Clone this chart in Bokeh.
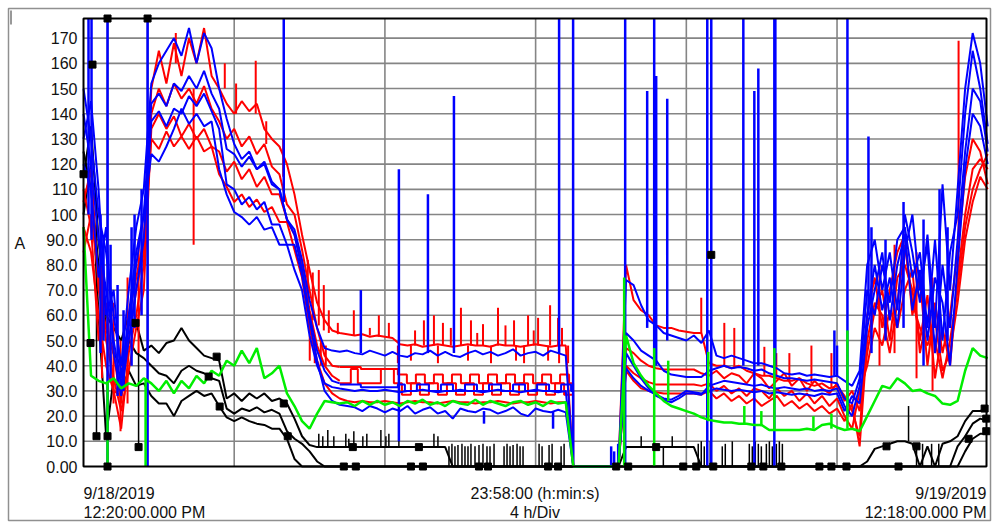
from bokeh.plotting import figure
from bokeh.models import Range1d
from bokeh.core.properties import value
from bokeh.embed import file_html
from bokeh.resources import INLINE

NAN = float("nan")

# ---------------- data ----------------
# logger record interval (hours) and number of records, time = hours since 9/18/2019 12:20 PM
SAMPLE_HOURS = 0.2
N_SAMPLES = 121
SPAN_HOURS = 23.967  # 23:58:00
GRID_HOURS = [4, 8, 12, 16, 20]

Y_TICKS = [0, 10, 20, 30, 40, 50, 60, 70, 80, 90, 100, 110, 120, 130, 140, 150, 160, 170]
Y_TICK_LABELS = ["0.00", "10.0", "20.0", "30.0", "40.0", "50.0", "60.0", "70.0", "80.0", "90.0",
                 "100", "110", "120", "130", "140", "150", "160", "170"]
Y_MAX = 177.8
Y_UNIT = "A"
X_LABELS_LEFT = ["9/18/2019", "12:20:00.000 PM"]
X_LABELS_MID = ["23:58:00 (h:min:s)", "4 h/Div"]
X_LABELS_RIGHT = ["9/19/2019", "12:18:00.000 PM"]

# red traces
R1 = ([105, 118, 70, 55, 45, 25, 60, 75, 90]
      + [150, 165, 152, 168, 155, 170, 160, 174, 155, 150, 144, 140, 145, 141, 144, 134, 130, 127, 120, 108, 92]
      + [78, 65, 58, 54, 53]
      + [52.5, 52, 52.5, 51.5, 52, 51.5, 51, 48.5, 48, 48.5, 47.5, 48, 48.5, 48, 47.5, 48, 48.5, 48, 48, 47.5,
         48.5, 48, 48, 47.5, 48, 48.5, 48, 47.5, 48, 48]
      + [0, 0, 0, 0, 0, 0, 0]
      + [80, 66, 62, 60, 56, 55, 55, 54, 53.5, 53, 53, 41, 40, 40, 39, 40, 38, 37, 36, 36, 35, 34, 34, 35, 33,
         32, 33, 31, 32]
      + [28, 22, 12, 60, 75, 55, 70, 85, 92, 60, 75, 40, 65, 45, 60, 85, 115, 130, 125, 112])
R2 = ([95, 85, 60, 40, 30, 15, 45, 60, 80]
      + [140, 150, 143, 152, 146, 150, 144, 151, 142, 137, 130, 134, 127, 131, 124, 128, 119, 116, 104, 100, 86]
      + [70, 55, 44, 40, 39.5]
      + [NAN] * 30
      + [0, 0, 0, 0, 0, 0, 0]
      + [47, 45, 42, 40, 39, 38.5, 38.5, 38.5, 38.5, 38.5, 37, 36, 38, 35, 37, 36, 33, 37, 35, 31, 34, 37, 32,
         35, 30, 34, 31, 29, 33]
      + [26, 30, 22, 45, 62, 70, 50, 75, 80, 70, 50, 68, 35, 55, 40, 75, 100, 118, 122, 118])
R3 = ([85, 100, 75, 50, 35, 22, 38, 55, 70]
      + [134, 140, 134, 139, 131, 136, 130, 134, 127, 125, 117, 121, 114, 118, 111, 115, 108, 108, 98, 92, 80]
      + [62, 48, 40, 36, 34]
      + [NAN] * 30
      + [0, 0, 0, 0, 0, 0, 0]
      + [40, 37, 35, 33.5, 32.5, 32.5, 32.5, 32.5, 32.5, 32.5, 32, 33, 30, 32, 29, 31, 28, 31, 30, 27, 31, 28,
         30, 26, 29, 25, 28, 24, 27]
      + [20, 15, 30, 40, 55, 48, 62, 55, 70, 78, 45, 60, 50, 35, 50, 70, 95, 110, 118, 124])
R4 = ([110, 95, 50, 65, 30, 28, 50, 70, 85]
      + [130, 126, 133, 127, 131, 126, 131, 125, 127, 116, 111, 105, 108, 103, 106, 101, 103, 97, 97, 86, 75]
      + [55, 42, 33, 29, 27]
      + [26, 25.5, 26, 25.5, 25.5, 26, 25.5, 25, 25.5, 26, 25.5, 25.5, 25, 25.5, 26, 25.5, 25.5, 25, 25.5,
         25.5, 26, 25.5, 25, 25.5, 25.5, 26, 25.5, 25, 25.5, 25.5]
      + [0, 0, 0, 0, 0, 0, 0]
      + [38, 34, 31, 30, 29.5, 29, 29, 29, 29, 29, 28.5, 30, 27, 29, 26, 28, 25, 27, 24, 26, 28, 24, 26, 23,
         25, 22, 24, 21, 23]
      + [18, 25, 8, 50, 65, 60, 45, 65, 88, 65, 55, 48, 58, 38, 45, 65, 90, 105, 115, 110])

# blue traces
U1 = ([150, 130, 100, 85, 60, 40, 70, 95, 110]
      + [152, 160, 165, 170, 163, 174, 160, 172, 166, 150, 138, 128, 122, 125, 118, 120, 112, 110, 98, 94, 82]
      + [66, 55, 47, 46, 45.5]
      + [46, 45, 44.5, 46, 45, 44, 45.5, 44, 43.5, 45, 44.5, 46, 44, 45.5, 44, 43.5, 45, 46, 44.5, 45.5, 44,
         45, 46.5, 44, 45, 45.5, 44, 46, 45, 44]
      + [0, 0, 0, 0, 0, 0, 0]
      + [74, 72, 64, 58, 56, 53, 52, 51, 50, 52, 49, 54, 44, 43, 44, 43, 42, 41, 41, 40, 39, 37, 36.5, 37, 36,
         36.5, 36, 35.5, 36]
      + [34, 32, 38, 80, 90, 70, 85, 62, 100, 85, 65, 92, 55, 112, 70, 110, 150, 172, 160, 135])
U2 = ([140, 120, 90, 70, 50, 32, 55, 80, 100]
      + [144, 148, 143, 152, 149, 155, 150, 157, 148, 142, 126, 124, 119, 123, 118, 121, 113, 110, 98, 92, 78]
      + [60, 46, 38, 34, 33]
      + [NAN] * 30
      + [0, 0, 0, 0, 0, 0, 0]
      + [53, 50, 46, 44, 42, 38, 36.5, 36, 35.5, 35.5, 35.5, 38, 39, 40, 39, 39.5, 39, 38, 38.5, 37, 36, 35,
         35, 34.5, 34, 34.5, 34, 33.5, 33]
      + [27, 25, 35, 70, 60, 80, 65, 90, 95, 75, 85, 55, 90, 50, 85, 100, 140, 165, 150, 128])
U3 = ([120, 110, 75, 95, 45, 28, 50, 70, 90]
      + [137, 141, 135, 142, 140, 147, 143, 148, 141, 134, 112, 110, 104, 107, 102, 105, 96, 96, 88, 88, 76]
      + [58, 42, 30, 26, 24.5]
      + [24, 23.5, 22, 24, 23, 21.5, 23, 22, 24, 21, 22.5, 23.5, 21, 22, 19, 23, 22, 21.5, 23, 22.5, 21, 22,
         23.5, 21, 20, 23, 22, 21.5, 22.5, 21.5]
      + [0, 0, 0, 0, 0, 0, 0]
      + [45, 40, 35, 31, 28, 26.5, 25.5, 27, 29, 29, 28.5, 32, 33, 34, 33.5, 33, 32.5, 32, 32.5, 31.5, 31,
         31.5, 31, 30.5, 31, 30, 30.5, 30, 31]
      + [24, 20, 32, 60, 80, 62, 75, 55, 85, 100, 70, 88, 45, 80, 55, 90, 125, 150, 145, 125])
U4 = ([130, 145, 110, 60, 70, 35, 60, 85, 100]
      + [124, 121, 127, 134, 142, 136, 140, 135, 137, 118, 108, 101, 99, 96, 99, 94, 95, 88, 88, 78, 70]
      + [52, 40, 33, 31.5, 31]
      + [30.5, 30, 30.5, 30, 30, 30.5, 30, 29.5, 30, 30, 30.5, 30, 29.5, 30, 30, 30.5, 30, 30, 29.5, 30, 30.5,
         30, 30, 29.5, 30, 30.5, 30, 30, 29.5, 30]
      + [0, 0, 0, 0, 0, 0, 0]
      + [39, 35, 32, 30, 28.5, 27, 26.5, 28, 30, 29.5, 29, 30, 31, 30.5, 30, 30.5, 30, 29.5, 30, 29, 29.5, 29,
         28.5, 29, 28.5, 28, 29, 28.5, 29]
      + [22, 28, 25, 55, 70, 85, 58, 80, 92, 62, 78, 50, 75, 65, 40, 80, 118, 140, 135, 120])

# green trace
G1 = ([95, 36, 34, 33, 35, 31, 33, 32, 35]
      + [33, 30, 34, 29, 34, 31, 36, 33, 38, 36, 42, 40, 46, 41, 47, 35, 37, 40, 29, 24, 18]
      + [15, 21, 26, 25.5, 25]
      + [25.5, 24, 26, 24.5, 26, 24.5, 25.5, 24, 26, 25, 26.5, 24.5, 25.5, 24, 26, 25, 24.5, 26.5, 24.5, 26,
         25, 24, 25.5, 26, 24.5, 25.5, 24, 26, 25, 25.5]
      + [0, 0, 0, 0, 0, 0, 0]
      + [52, 41, 36, 32, 29, 26, 24, 23, 22, 21, 19.5, 18.5, 18, 17.5, 17.5, 17, 17, 16.5, 16.5, 14.5, 14.5,
         14.5, 14.5, 14.5, 15, 14.5, 16.5, 17, 15.5]
      + [14.5, 15, 14, 20, 26, 32, 31, 35, 33, 30, 30.5, 29, 28, 25, 24.5, 26, 38, 47, 44, 43])

# black traces
K1 = ([115, 135, 90, 60, 55, 50, 60, 57, 46]
      + [48, 45, 49, 50, 55, 50, 47, 44, 43, 42, 27, 29, 26, 29, 27, 29, 26, 27, 25, 19, 12]
      + [8.5, 7.7, 7.7, 7.7, 7.7]
      + [7.7] * 14 + [0] * 16
      + [0, 0, 0, 0, 0, 0, 0]
      + [7.7] * 10 + [0] * 19
      + [0, 0, 0, 2, 7, 8, 9, 10, 10, 9, 0, 8, 0, 9, 10, 12, 18, 22, 22, 23])
K2 = ([125, 110, 80, 55, 45, 40, 50, 45, 43]
      + [40, 37, 36, 33, 38, 40, 38, 37, 35, 34, 23, 21, 23, 22, 23.5, 21.5, 22.5, 21, 14, 11, 9]
      + [6, 2, 0, 0, 0]
      + [0] * 30
      + [0, 0, 0, 0, 0, 0, 0]
      + [0] * 29
      + [0] * 15 + [8, 12, 17, 19, 18])
K3 = ([100, 120, 60, 12, 35, 30, 38, 32, 33]
      + [28, 25, 25, 20, 26, 28, 30, 28, 29, 24, 19.5, 18, 19.5, 18, 17, 16.5, 15, 15, 11, 3, 0]
      + [0] * 87 + [6, 11, 13, 13])

# night square-wave stretches (time of change, new level)
R2_NIGHT_T = [6.803, 7.361, 8.344, 8.583, 8.822, 9.061, 9.301, 9.540, 9.779, 10.018, 10.258, 10.497, 10.736,
              10.975, 11.214, 11.453, 11.693, 11.932, 12.171, 12.410, 12.649, 12.888, 12.995]
R2_NIGHT_V = [39.5, 38.7, 36.5, 33, 36.5, 33, 36.5, 33, 36.5, 33, 36.5, 33, 36.5, 33, 36.5, 33, 36.5, 33,
              36.5, 33, 36.5, 33, 0]
R3_NIGHT_T = [6.803, 7.095, 7.281, 7.893, 8.238, 8.451, 8.690, 8.929, 9.168, 9.407, 9.646, 9.886, 10.125,
              10.364, 10.603, 10.842, 11.081, 11.321, 11.560, 11.799, 12.038, 12.277, 12.516, 12.756, 12.995]
R3_NIGHT_V = [33, 38.7, 33, 38.7, 33, 28.5, 33, 28.5, 33, 28.5, 33, 28.5, 33, 28.5, 33, 28.5, 33, 28.5, 33,
              28.5, 33, 28.5, 33, 28.5, 0]
U2_NIGHT_T = [6.803, 7.361, 8.344, 8.530, 8.849, 9.168, 9.487, 9.806, 10.125, 10.443, 10.762, 11.081,
              11.401, 11.719, 12.038, 12.357, 12.676, 12.941, 12.995]
U2_NIGHT_V = [32.5, 31.5, 32.5, 30, 32.5, 30, 32.5, 30, 32.5, 30, 32.5, 30, 32.5, 30, 32.5, 30, 32.5, 30, 0]

# short excursions between records (time, from, to)
RED_SPIKE_T = [2.923, 4.571, 5.953, 6.085, 6.245, 6.378, 6.511, 7.175, 7.839, 8.105, 9.035, 9.301, 9.540,
               10.018, 10.284, 10.603, 11.002, 11.427, 11.799, 12.065, 12.384, 12.596, 8.344, 8.690, 9.407,
               10.205, 10.816, 11.480, 11.693, 12.331, 12.623, 12.862, 16.396, 17.008, 17.273, 18.071, 18.389,
               18.735, 19.320, 19.851, 23.226,
               6.005, 6.138, 6.298, 6.431, 6.750, 7.600, 8.800, 9.750, 10.450, 11.200, 11.950, 12.700,
               2.450, 3.750, 4.050, 4.850, 5.300,
               0.492, 0.797, 0.983, 1.169, 1.462,
               21.127, 21.526, 22.110, 22.535]
RED_SPIKE_LO = [150, 140, 62, 58, 56, 54, 53, 52, 51.5, 51, 48, 48, 48, 48, 48, 48, 48, 48, 48, 48, 48, 48,
                48, 48, 48, 48, 48, 48, 48, 48, 48, 48, 53, 40, 39, 36, 35, 34, 33, 31, 85,
                42, 41, 40, 40, 52.5, 52, 48, 48, 48, 48, 48, 48,
                160, 150, 140, 128, 115,
                35, 25, 14, 25, 45,
                40, 45, 35, 30]
RED_SPIKE_HI = [88, 161, 82, 77, 78, 72, 62, 62, 60, 57, 58, 60, 57, 63, 58, 56.5, 63, 58, 60, 59, 64, 59,
                41, 42, 41, 42, 41, 42, 41, 42, 41, 41, 67, 57, 55, 47.5, 45, 45, 48, 45, 169,
                52, 50, 49, 48, 57, 55, 54, 55, 53, 56, 54, 55,
                172, 160, 152, 137, 130,
                80, 65, 50, 75, 90,
                80, 88, 85, 75]

BLUE_SPIKE_T = [0.133, 0.213, 0.638, 1.701, 5.315, 7.361, 8.371, 9.142, 9.832, 12.623, 12.995, 14.005,
                14.084, 14.191, 14.377, 14.961, 15.147, 15.200, 15.493, 16.556, 16.662, 17.513, 17.805,
                17.911, 18.336, 18.363, 20.276, 20.834, 10.630, 12.463, 19.93, 20.0,
                0.452, 0.532, 0.718, 0.904, 1.063, 1.276, 1.355, 1.541,
                20.914, 21.287, 21.765, 22.296, 22.721, 22.934]
BLUE_SPIKE_LO = [100, 90, 0, 0, 105, 45, 10, 45, 45, 45, 0, 0, 0, 0, 0, 55, 40, 40, 50, 0, 0, 40, 0, 40, 0,
                 40, 20, 60, 22, 22, 36, 36,
                 45, 50, 35, 28, 30, 40, 55, 60,
                 45, 50, 55, 40, 45, 50]
BLUE_SPIKE_HI = [177.8, 177.8, 177.8, 177.8, 177.8, 70, 118, 108, 147, 177.8, 177.8, 8, 6, 9, 177.8, 149,
                 177.8, 155, 146, 177.8, 177.8, 177.8, 149, 158, 177.8, 177.8, 177.8, 131, 17, 15, 54, 48,
                 100, 92, 88, 72, 62, 95, 100, 110,
                 95, 90, 105, 98, 110, 95]

GREEN_SPIKE_T = [0.638, 1.648, 14.350, 15.147, 15.519, 16.582, 17.539, 17.991, 18.336, 19.373, 19.851, 20.276]
GREEN_SPIKE_LO = [0, 0, 0, 0, 26, 18, 17, 16, 14.5, 15, 15, 15]
GREEN_SPIKE_HI = [33, 35, 75, 47, 42, 45.5, 24, 22, 47, 20, 21, 54]

BLACK_SPIKE_T = ([0.345, 0.638, 1.462, 1.701]
                 + [6.245, 6.351, 6.484, 6.644, 6.962, 7.042, 7.175, 7.414, 7.520, 7.893, 8.026, 8.105, 8.371,
                    9.301, 9.407]
                 + [9.700, 9.779, 9.859, 9.939, 10.045, 10.125, 10.205, 10.284, 10.391, 10.497, 10.603, 10.709,
                    10.789, 10.896, 11.162, 11.241, 11.321, 11.401, 11.507, 11.587, 11.666, 12.092, 12.171,
                    12.357, 12.437, 12.676, 12.756]
                 + [14.802, 15.626, 15.39, 16.662]
                 + [16.316, 16.396, 16.476, 16.556, 16.635, 16.954, 17.034, 17.220, 17.672, 17.751, 17.831,
                    17.911, 17.991, 18.124, 18.204, 18.283, 18.389, 18.469, 18.549]
                 + [21.898, 22.11, 22.27, 22.51, 22.70])
BLACK_SPIKE_LO = ([12, 0, 7.7, 40]
                  + [7.7] * 15
                  + [0] * 27
                  + [7.7, 7.7, 0, 0]
                  + [0] * 19
                  + [10, 0, 0, 0, 0])
BLACK_SPIKE_HI = ([100, 177.8, 45, 177.8]
                  + [13, 12, 14.5, 12, 13, 11, 14, 12, 13, 14.5, 12, 13, 12, 13, 12]
                  + [8, 9, 8, 8.5, 9, 8, 8, 9, 8, 8.5, 9, 8, 8, 9, 8, 9, 8, 8.5, 9, 8, 8, 9, 8, 8.5, 9, 8, 9]
                  + [12, 12, 7.7, 84]
                  + [9, 10, 8, 9, 10, 8, 9, 10, 9, 8, 10, 9, 8, 9, 10, 8, 9, 10, 9]
                  + [24, 9, 9, 9, 9])

# black trace markers
MARK_T = [0.0, 0.239, 0.638, 1.701, 0.186, 0.345, 0.638, 0.638, 1.462, 1.382, 3.534, 3.322, 3.614, 5.315,
          5.421, 7.148, 8.902, 6.909, 7.228, 8.690, 9.009, 10.497, 10.736, 12.331, 12.596, 14.138, 14.457,
          15.200, 16.662, 15.918, 16.263, 16.715, 17.725, 18.044, 18.522, 19.532, 19.851, 20.250, 21.632,
          21.313, 22.110, 23.492, 23.917, 23.96, 23.96]
MARK_V = [116, 159.5, 177.8, 177.8, 49, 12, 12, 0, 7.7, 57, 43.6, 35.7, 23.8, 25, 12, 7.7, 7.7, 0, 0, 0, 0,
          0, 0, 0, 0, 0, 0, 7.7, 84, 0, 0, 0, 0, 0, 0, 0, 0, 0, 0, 8, 8, 11, 23, 19, 14]

# ---------------- layout (pixels of the 992x522 page) ----------------
W, H = 992, 522
F_LEFT, F_RIGHT, F_TOP, F_BOTTOM = 83, 986, 18, 466
PX_PER_H = (F_RIGHT - F_LEFT) / SPAN_HOURS
PX_PER_A = (F_BOTTOM - F_TOP) / Y_MAX


def hx(px):
    return (px - F_LEFT) / PX_PER_H


def vy(py):
    return (F_BOTTOM - py) / PX_PER_A


T = [i * SAMPLE_HOURS for i in range(N_SAMPLES)]
FONT = "Liberation Sans"
TXT = "#111111"

p = figure(width=W, height=H, x_range=Range1d(hx(0), hx(W)), y_range=Range1d(vy(H), vy(0)),
           output_backend="svg", toolbar_location=None, x_axis_location=None, y_axis_location=None,
           min_border=0)
p.min_border_left = p.min_border_right = p.min_border_top = p.min_border_bottom = 0
p.background_fill_color = "white"
p.border_fill_color = "white"
p.outline_line_color = None
p.grid.visible = False

# outer border and cursor tick
p.quad(left=[hx(8)], right=[hx(990)], top=[vy(8)], bottom=[vy(520)], fill_color=None,
       line_color="#909090", line_width=1.5)
p.segment(x0=[hx(10.5)], y0=[vy(10)], x1=[hx(10.5)], y1=[vy(24)], line_color="#333333", line_width=1)

# grid
GRID_C = "#858585"
p.segment(x0=[0] * (len(Y_TICKS) - 1), y0=Y_TICKS[1:], x1=[SPAN_HOURS] * (len(Y_TICKS) - 1), y1=Y_TICKS[1:],
          line_color=GRID_C, line_width=1.6)
p.segment(x0=GRID_HOURS, y0=[0] * len(GRID_HOURS), x1=GRID_HOURS, y1=[Y_MAX] * len(GRID_HOURS),
          line_color=GRID_C, line_width=1.6)

LW = 2
# black
for k in (K1, K2, K3):
    p.line(T, k, line_color="black", line_width=LW)
p.segment(x0=BLACK_SPIKE_T, y0=BLACK_SPIKE_LO, x1=BLACK_SPIKE_T, y1=BLACK_SPIKE_HI,
          line_color="black", line_width=1.5)
# red
for r in (R1, R2, R3, R4):
    p.line(T, r, line_color="#ff0000", line_width=LW)
p.step(R2_NIGHT_T, R2_NIGHT_V, mode="after", line_color="#ff0000", line_width=LW)
p.step(R3_NIGHT_T, R3_NIGHT_V, mode="after", line_color="#ff0000", line_width=LW)
p.segment(x0=RED_SPIKE_T, y0=RED_SPIKE_LO, x1=RED_SPIKE_T, y1=RED_SPIKE_HI,
          line_color="#ff0000", line_width=LW)
# blue
for u in (U1, U2, U3, U4):
    p.line(T, u, line_color="#0000ff", line_width=LW)
p.step(U2_NIGHT_T, U2_NIGHT_V, mode="after", line_color="#0000ff", line_width=LW)
p.segment(x0=BLUE_SPIKE_T, y0=BLUE_SPIKE_LO, x1=BLUE_SPIKE_T, y1=BLUE_SPIKE_HI,
          line_color="#0000ff", line_width=2.5)
# green
p.line(T, G1, line_color="#00ee00", line_width=2.5)
p.segment(x0=GREEN_SPIKE_T, y0=GREEN_SPIKE_LO, x1=GREEN_SPIKE_T, y1=GREEN_SPIKE_HI,
          line_color="#00ee00", line_width=2.5)

# plot frame
p.quad(left=[0], right=[SPAN_HOURS], bottom=[0], top=[Y_MAX], fill_color=None,
       line_color="black", line_width=2)

# markers
p.scatter(MARK_T, MARK_V, marker="square", size=7, fill_color="black", line_color="black")

# y tick labels and unit
p.text(x=[hx(F_LEFT - 6)] * len(Y_TICKS), y=Y_TICKS, text=Y_TICK_LABELS, text_align="right",
       text_baseline="middle", text_font=value(FONT), text_font_size=value("16px"), text_color=TXT)
p.text(x=[hx(14)], y=[vy(243)], text=[Y_UNIT], text_align="left", text_baseline="middle",
       text_font=value(FONT), text_font_size=value("16px"), text_color=TXT)

# x labels
for xs, align, lines in ((0, "left", X_LABELS_LEFT), (SPAN_HOURS / 2, "center", X_LABELS_MID),
                         (SPAN_HOURS, "right", X_LABELS_RIGHT)):
    p.text(x=[xs, xs], y=[vy(493), vy(512)], text=lines, text_align=align, text_baseline="alphabetic",
           text_font=value(FONT), text_font_size=value("16px"), text_color=TXT)

open("out.html", "w").write(file_html(p, INLINE))
